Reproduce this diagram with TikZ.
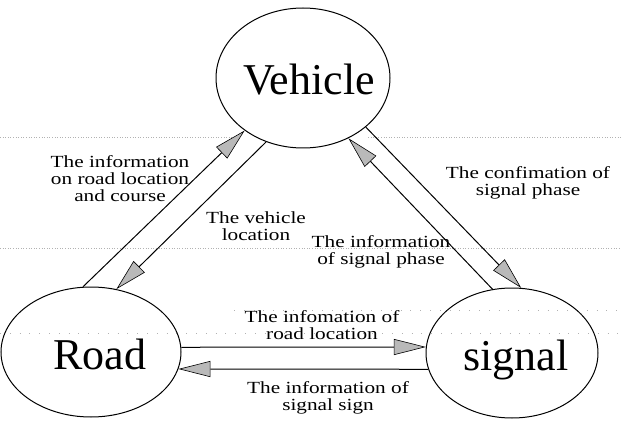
\documentclass[tikz,border=0pt]{standalone}
\usepackage{fontspec}
\setmainfont{Liberation Serif}
\newfontfamily\stretchserif{Liberation Serif}[FakeStretch=1.25]
\usetikzlibrary{arrows.meta}
\usetikzlibrary{shapes.geometric}
\tikzstyle{place} = [ellipse, draw, line width=1pt, inner sep=0pt]
\tikzstyle{bigname} = [font=\fontsize{44}{48}\selectfont, text height=34pt, text depth=0pt, inner sep=0pt]
\tikzstyle{info} = [font=\stretchserif\fontsize{17}{17}\selectfont, align=center, inner sep=0pt]
\tikzstyle{flow} = [line width=1pt, -{Triangle[length=32pt,width=16pt,fill=gray!55,line width=0.6pt]}]
\tikzstyle{scanline} = [gray!60, line width=0.6pt, dotted]
\tikzstyle{sparseline} = [gray!60, line width=0.8pt, dash pattern=on 0.8pt off 9pt]

\begin{document}
\begin{tikzpicture}[x=1pt,y=1pt]
	\useasboundingbox (0,0) rectangle (621,421);
	\draw[scanline] (0,284) -- (238,284);
	\draw[scanline] (368,284) -- (621,284);
	\draw[scanline] (0,173) -- (621,173);
	\draw[sparseline] (234,111) -- (621,111);
	\draw[sparseline] (0,88) -- (621,88);

	\node[place, minimum width=174pt, minimum height=140pt,
		label={[bigname, xshift=6pt]center:Vehicle}] (vehicle) at (303,343) {};
	\node[place, minimum width=180pt, minimum height=130pt,
		label={[bigname, xshift=9pt]center:Road}] (road) at (91,69) {};
	\node[place, minimum width=172pt, minimum height=130pt,
		label={[bigname, xshift=4pt]center:signal}] (signal) at (512,68) {};

	\draw[flow] (road.97) -- (vehicle.222);
	\draw[flow] (vehicle.240) -- (road.68);
	\draw[flow] (signal.107) -- (vehicle.307);
	\draw[flow] (vehicle.322) -- (signal.82);
	\draw[flow] (road.3) -- (signal.176);
	\draw[flow] (signal.191) -- (road.349);

	\node[info] (onroad) at (120,242) {The information\\on road location\\and course};
	\node[info] (vehloc) at (256,195) {The vehicle\\location};
	\node[info] (sigphase) at (381,169.5) {The information\\of signal phase};
	\node[info] (confirm) at (528,238.5) {The confimation of\\signal phase};
	\node[info] (roadloc) at (322,96) {The infomation of\\road location};
	\node[info] (signsign) at (328,23.5) {The information of\\signal sign};
\end{tikzpicture}
\end{document}
